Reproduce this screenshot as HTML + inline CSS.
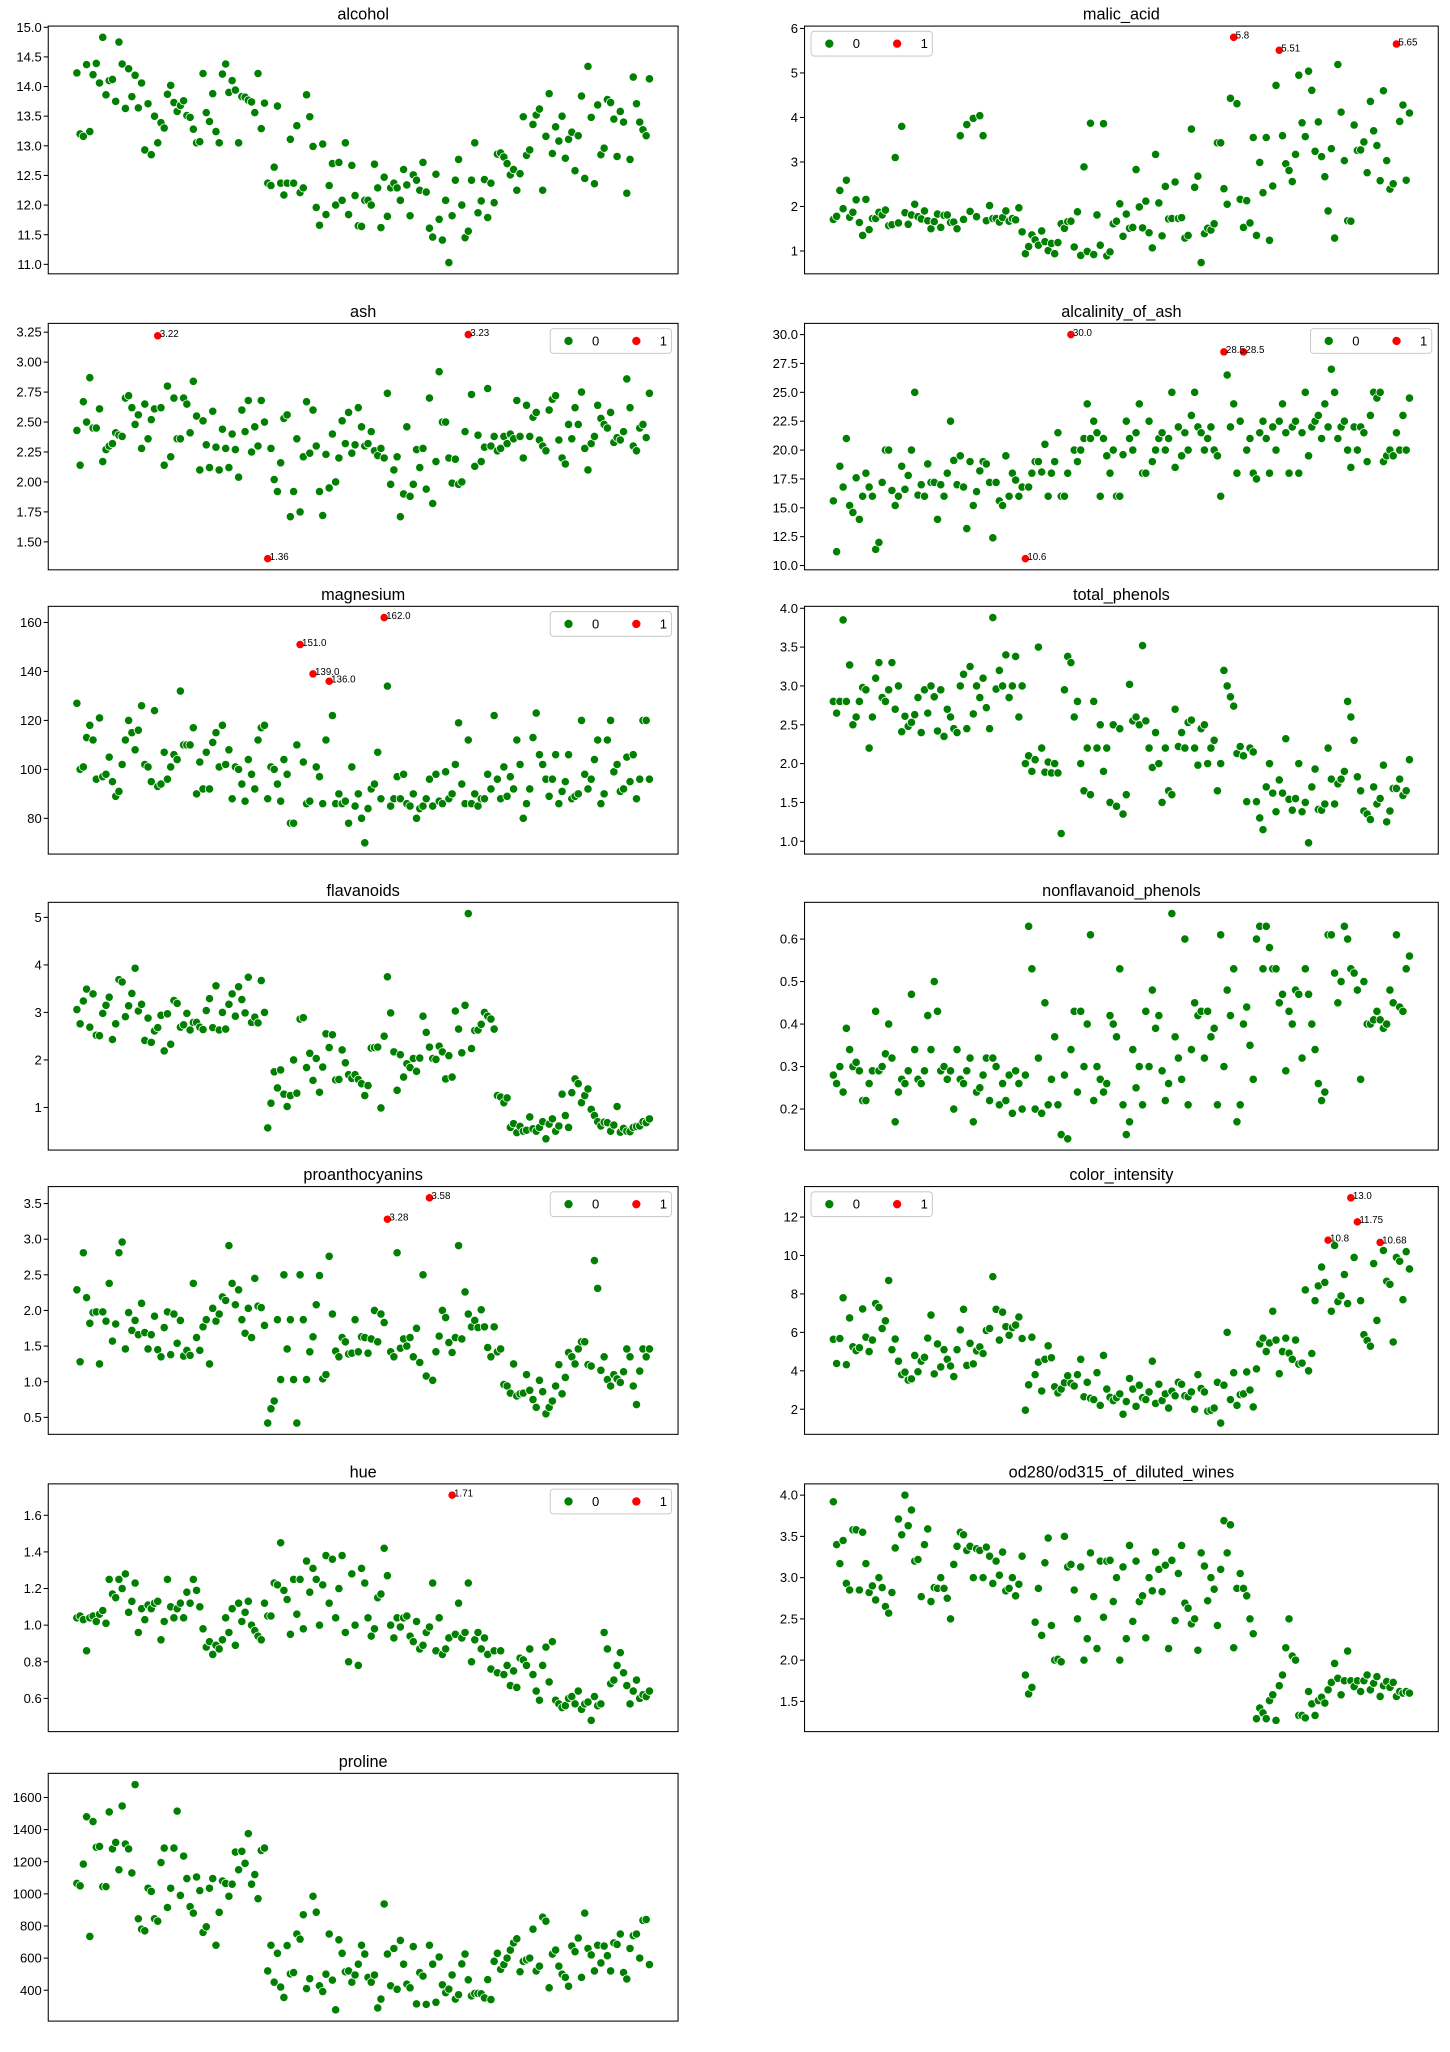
<!DOCTYPE html>
<html>
<head>
<meta charset="utf-8">
<style>
  html,body{margin:0;padding:0;background:#fff;}
  svg{display:block;font-family:"Liberation Sans","DejaVu Sans",sans-serif;}
</style>
</head>
<body>
<svg id="chart" width="1450" height="2052" viewBox="0 0 1112 1573.7" preserveAspectRatio="none" xmlns="http://www.w3.org/2000/svg"></svg>
<script>
const alcohol=[14.23,13.2,13.16,14.37,13.24,14.2,14.39,14.06,14.83,13.86,14.1,14.12,13.75,14.75,14.38,13.63,14.3,13.83,14.19,13.64,14.06,12.93,13.71,12.85,13.5,13.05,13.39,13.3,13.87,14.02,13.73,13.58,13.68,13.76,13.51,13.48,13.28,13.05,13.07,14.22,13.56,13.41,13.88,13.24,13.05,14.21,14.38,13.9,14.1,13.94,13.05,13.83,13.82,13.77,13.74,13.56,14.22,13.29,13.72,12.37,12.33,12.64,13.67,12.37,12.17,12.37,13.11,12.37,13.34,12.21,12.29,13.86,13.49,12.99,11.96,11.66,13.03,11.84,12.33,12.7,12.0,12.72,12.08,13.05,11.84,12.67,12.16,11.65,11.64,12.08,12.08,12.0,12.69,12.29,11.62,12.47,11.81,12.29,12.37,12.29,12.08,12.6,12.34,11.82,12.51,12.42,12.25,12.72,12.22,11.61,11.46,12.52,11.76,11.41,12.08,11.03,11.82,12.42,12.77,12.0,11.45,11.56,12.42,13.05,11.87,12.07,12.43,11.79,12.37,12.04,12.86,12.88,12.81,12.7,12.51,12.6,12.25,12.53,13.49,12.84,12.93,13.36,13.52,13.62,12.25,13.16,13.88,12.87,13.32,13.08,13.5,12.79,13.11,13.23,12.58,13.17,13.84,12.45,14.34,13.48,12.36,13.69,12.85,12.96,13.78,13.73,13.45,12.82,13.58,13.4,12.2,12.77,14.16,13.71,13.4,13.27,13.17,14.13];
const malicAcid=[1.71,1.78,2.36,1.95,2.59,1.76,1.87,2.15,1.64,1.35,2.16,1.48,1.73,1.73,1.87,1.81,1.92,1.57,1.59,3.1,1.63,3.8,1.86,1.6,1.81,2.05,1.77,1.72,1.9,1.68,1.5,1.66,1.83,1.53,1.8,1.81,1.64,1.65,1.5,3.59,1.71,3.84,1.89,3.98,1.77,4.04,3.59,1.68,2.02,1.73,1.73,1.65,1.75,1.9,1.67,1.73,1.7,1.97,1.43,
0.94,1.1,1.36,1.25,1.13,1.45,1.21,1.01,1.17,0.94,1.19,1.61,1.51,1.66,1.67,1.09,1.88,0.9,2.89,0.99,3.87,0.92,1.81,1.13,3.86,0.89,0.98,1.61,1.67,2.06,1.33,1.83,1.51,1.53,2.83,1.99,1.52,2.12,1.41,1.07,3.17,2.08,1.34,2.45,1.72,1.73,2.55,1.73,1.75,1.29,1.35,3.74,2.43,2.68,0.74,1.39,1.51,1.47,1.61,3.43,3.43,2.4,2.05,4.43,5.8,4.31,2.16,1.53,2.13,1.63,3.55,
1.35,2.99,2.31,3.55,1.24,2.46,4.72,5.51,3.59,2.96,2.81,2.56,3.17,4.95,3.88,3.57,5.04,4.61,3.24,3.9,3.12,2.67,1.9,3.3,1.29,5.19,4.12,3.03,1.68,1.67,3.83,3.26,3.27,3.45,2.76,4.36,3.7,3.37,2.58,4.6,3.03,2.39,2.51,5.65,3.91,4.28,2.59,4.1];
const ash=[2.43,2.14,2.67,2.5,2.87,2.45,2.45,2.61,2.17,2.27,2.3,2.32,2.41,2.39,2.38,2.7,2.72,2.62,2.48,2.56,2.28,2.65,2.36,2.52,2.61,3.22,2.62,2.14,2.8,2.21,2.7,2.36,2.36,2.7,2.65,2.41,2.84,2.55,2.1,2.51,2.31,2.12,2.59,2.29,2.1,2.44,2.28,2.12,2.4,2.27,2.04,2.6,2.42,2.68,2.25,2.46,2.3,2.68,2.5,
1.36,2.28,2.02,1.92,2.16,2.53,2.56,1.71,1.92,2.36,1.75,2.21,2.67,2.24,2.6,2.3,1.92,1.72,2.23,1.95,2.4,2.0,2.2,2.51,2.32,2.58,2.24,2.31,2.62,2.46,2.3,2.32,2.42,2.26,2.22,2.28,2.2,2.74,1.98,2.1,2.21,1.71,1.9,2.46,1.88,1.98,2.27,2.12,2.28,1.94,2.7,1.82,2.17,2.92,2.5,2.5,2.2,1.99,2.19,1.98,2.0,2.42,3.23,2.73,2.13,2.39,2.17,2.29,2.78,2.3,2.38,
2.26,2.28,2.38,2.32,2.4,2.36,2.68,2.38,2.2,2.64,2.38,2.54,2.58,2.35,2.3,2.26,2.6,2.69,2.72,2.35,2.2,2.15,2.48,2.36,2.62,2.48,2.75,2.28,2.1,2.32,2.38,2.64,2.53,2.48,2.45,2.58,2.33,2.37,2.35,2.42,2.86,2.62,2.3,2.26,2.45,2.48,2.37,2.74];
const alcalinityOfAsh=[15.6,11.2,18.6,16.8,21,15.2,14.6,17.6,14,16,18,16.8,16,11.4,12,17.2,20,20,16.5,15.2,16,18.6,16.6,17.8,20,25,16.1,17,16,18.8,17.2,17.2,14,17,16,18,22.5,19.1,17,19.5,16.8,13.2,19,15.2,16.4,18.2,19,18.8,17.2,12.4,17.2,15.6,15.2,19.5,16,18,17.4,16,16.8,
10.6,16.8,18,19,19,18.1,20.5,16,18,19,21.5,16,16,18,30,20,19,20,21,24,21,22.5,21.5,16,21,19.5,18,20,16,16,19.6,22.5,21,20,21.5,24,18,18,22.5,19,20,21,21.5,20,21,25,18.5,22,19.5,21.5,20,23,25,22,21.5,20,21,22,20,19.5,16,28.5,26.5,22,24,18,22.5,28.5,20,21,18,
17.5,21.5,22.5,21,18,22,20,22.5,24,21.5,18,22,22.5,18,21.5,25,19.5,22,22.5,23,21,24,22,27,25,21,22,22.5,20,18.5,22,20,22,21.5,19,23,25,24.5,25,19,19.5,20,19.5,21.5,20,23,20,24.5];
const magnesium=[127,100,101,113,118,112,96,121,97,98,105,95,89,91,102,112,120,115,108,116,126,102,101,95,124,93,94,107,96,101,106,104,132,110,110,110,117,90,103,92,107,92,111,115,101,118,102,108,88,101,100,94,87,104,98,92,112,117,118,
88,101,100,94,87,104,98,78,78,110,151,103,86,87,139,101,97,86,112,136,122,86,90,86,87,78,101,85,90,80,70,84,92,94,107,88,162,134,85,88,97,88,98,86,85,90,80,84,85,88,96,85,98,87,86,99,88,90,102,119,94,86,112,86,90,85,88,88,98,92,122,
96,88,101,89,97,92,112,102,80,86,92,113,123,106,102,96,89,96,106,86,91,95,106,88,89,90,120,98,92,96,104,112,86,90,112,120,99,102,91,92,105,95,106,88,96,120,120,96];
const totalPhenols=[2.8,2.65,2.8,3.85,2.8,3.27,2.5,2.6,2.8,2.98,2.95,2.2,2.6,3.1,3.3,2.85,2.8,2.95,3.3,2.7,3,2.41,2.61,2.48,2.53,2.63,2.85,2.4,2.95,2.65,3,2.86,2.42,2.95,2.35,2.7,2.6,2.45,2.4,3,3.15,2.45,3.25,2.64,3,2.85,3.1,2.72,2.45,3.88,2.96,3.2,3,3.4,2.85,3,3.38,2.6,3.0,
2.0,2.1,1.9,2.05,3.5,2.2,1.89,2.02,1.88,2.0,1.88,1.1,2.95,3.38,3.3,2.6,2.8,2.0,1.65,2.2,1.6,2.8,2.2,2.5,1.9,2.2,1.5,2.5,1.45,2.45,1.35,1.6,3.02,2.55,2.6,2.5,3.52,2.55,2.2,1.95,2.4,2.0,1.5,2.2,1.65,1.6,2.7,2.22,2.4,2.2,2.53,2.56,2.2,1.98,2.45,2.5,2.0,2.2,2.3,1.65,2.0,3.2,3.0,2.86,2.74,2.13,2.22,2.1,1.51,2.2,2.15,
1.51,1.3,1.15,1.7,2.0,1.62,1.38,1.79,1.62,2.32,1.54,1.4,1.55,2.0,1.38,1.5,0.98,1.7,1.93,1.41,1.4,1.48,2.2,1.8,1.48,1.74,1.8,1.9,2.8,2.6,2.3,1.83,1.65,1.39,1.35,1.28,1.7,1.48,1.55,1.98,1.25,1.39,1.68,1.68,1.8,1.59,1.65,2.05];
const flavanoids=[3.06,2.76,3.24,3.49,2.69,3.39,2.52,2.51,2.98,3.15,3.32,2.43,2.76,3.69,3.64,2.91,3.14,3.4,3.93,3.03,3.17,2.41,2.88,2.37,2.61,2.68,2.94,2.19,2.97,2.33,3.25,3.19,2.69,2.74,2.98,2.63,2.79,2.79,2.69,2.64,3.04,3.29,2.68,3.56,2.63,3.0,2.65,3.17,3.39,2.92,3.54,3.27,2.99,3.74,2.79,2.9,2.78,3.67,3.0,
0.57,1.09,1.75,1.41,1.79,1.28,1.02,1.25,2.0,1.3,2.86,2.89,1.84,2.14,1.57,2.03,1.32,1.85,2.55,2.26,2.53,1.58,1.59,2.21,1.94,1.69,1.61,1.69,1.59,1.5,1.25,1.46,2.25,2.26,2.27,0.99,2.5,3.75,2.99,2.17,1.36,2.11,1.64,1.92,1.84,2.03,1.76,2.04,2.92,2.58,2.27,2.03,2.01,2.29,2.17,1.6,2.09,1.64,3.03,2.65,2.15,3.15,5.08,2.24,2.62,2.63,2.75,3.0,2.92,2.86,2.65,
1.25,1.22,1.1,1.2,0.58,0.66,0.47,0.6,0.5,0.52,0.8,0.55,0.5,0.58,0.7,0.34,0.65,0.76,0.5,0.61,1.28,0.83,0.58,1.31,1.6,1.5,1.1,1.25,1.39,0.96,0.83,0.7,0.61,0.69,0.68,0.5,0.63,1.02,0.48,0.56,0.5,0.49,0.58,0.6,0.61,0.7,0.68,0.76];
const nonflavanoidPhenols=[0.28,0.26,0.3,0.24,0.39,0.34,0.3,0.31,0.29,0.22,0.22,0.26,0.29,0.43,0.29,0.3,0.33,0.4,0.32,0.17,0.24,0.27,0.26,0.29,0.47,0.34,0.27,0.26,0.29,0.42,0.34,0.5,0.43,0.29,0.3,0.27,0.29,0.2,0.34,0.27,0.26,0.29,0.32,0.17,0.24,0.25,0.28,0.32,0.22,0.32,0.3,0.21,0.26,0.22,0.28,0.19,0.29,0.26,0.2,
0.28,0.63,0.53,0.2,0.32,0.19,0.45,0.21,0.27,0.37,0.21,0.14,0.28,0.13,0.34,0.43,0.24,0.43,0.3,0.4,0.61,0.22,0.3,0.27,0.24,0.26,0.42,0.4,0.37,0.53,0.21,0.14,0.17,0.34,0.25,0.3,0.21,0.43,0.3,0.48,0.39,0.42,0.29,0.22,0.26,0.66,0.37,0.32,0.27,0.6,0.21,0.34,0.45,0.42,0.43,0.32,0.43,0.37,0.39,0.21,0.61,0.3,0.48,0.42,0.53,0.17,0.21,0.4,0.44,0.35,0.27,
0.6,0.63,0.53,0.63,0.58,0.53,0.53,0.45,0.47,0.29,0.43,0.4,0.48,0.47,0.32,0.53,0.47,0.4,0.34,0.26,0.22,0.24,0.61,0.61,0.52,0.45,0.5,0.63,0.6,0.53,0.52,0.48,0.27,0.5,0.4,0.4,0.41,0.43,0.41,0.39,0.4,0.48,0.45,0.61,0.44,0.43,0.53,0.56];
const proanthocyanins=[2.29,1.28,2.81,2.18,1.82,1.97,1.98,1.25,1.98,1.85,2.38,1.57,1.81,2.81,2.96,1.46,1.97,1.72,1.86,1.66,2.1,1.69,1.46,1.66,1.92,1.45,1.35,1.76,1.98,1.38,1.95,1.54,1.86,1.36,1.44,1.37,2.38,1.62,1.44,1.77,1.87,1.25,2.03,1.85,1.95,2.19,2.14,2.91,2.38,2.08,2.29,1.87,1.68,2.03,1.62,2.45,2.06,2.04,1.79,
0.42,0.62,0.73,1.87,1.03,2.5,1.46,1.87,1.03,0.42,2.5,1.87,1.03,1.42,1.63,2.08,2.49,1.04,1.1,2.76,1.95,1.43,1.35,1.62,1.56,1.39,1.4,1.87,1.42,1.63,1.62,1.4,1.6,2.0,1.56,1.95,1.83,3.28,1.42,1.35,2.81,1.47,1.6,1.5,1.62,1.35,1.75,1.27,2.5,1.08,3.58,1.02,1.42,1.64,2.0,1.9,1.55,1.41,1.62,2.91,1.6,2.26,1.95,1.77,1.86,1.76,2.01,1.77,1.48,1.35,1.77,
1.42,1.46,0.96,0.94,0.84,1.25,0.8,0.83,0.84,1.1,0.88,0.75,0.64,1.02,0.86,0.55,0.64,0.73,0.94,1.24,0.83,1.06,1.41,1.35,1.25,1.46,1.56,1.56,1.24,1.22,2.7,2.31,1.16,1.35,1.03,0.94,1.1,1.04,0.99,1.14,1.46,1.35,0.94,0.68,1.15,1.46,1.35,1.46];
const colorIntensity=[5.64,4.38,5.68,7.8,4.32,6.75,5.25,5.05,5.2,7.22,5.75,5.0,5.6,7.5,7.3,6.2,6.6,8.7,5.1,5.65,4.5,3.8,3.93,3.52,3.58,4.8,3.95,4.5,4.7,5.7,6.9,3.84,5.4,4.2,5.1,4.6,4.25,3.7,5.1,6.13,7.2,4.28,5.43,4.36,5.04,5.24,4.9,6.1,6.2,8.9,7.2,5.6,7.05,6.3,5.85,6.25,6.38,6.8,5.68,
1.95,3.27,5.75,3.8,4.45,2.95,4.6,5.3,4.68,3.17,2.85,3.05,3.38,3.74,3.35,3.21,3.8,4.6,2.65,3.4,2.57,2.5,3.9,2.2,4.8,3.05,2.62,2.45,2.6,2.8,1.74,2.4,3.6,3.05,2.15,3.25,2.6,2.5,2.9,4.5,2.3,3.3,2.45,2.8,2.06,2.94,2.7,3.4,3.3,2.7,2.65,2.9,2.0,3.8,3.08,2.9,1.9,1.95,2.06,3.4,1.28,3.25,6.0,2.5,3.9,2.2,2.76,2.8,3.94,3.0,2.12,
4.1,5.4,5.7,5.0,5.45,7.1,5.6,3.85,5.0,5.7,4.92,4.6,5.6,4.35,4.4,8.21,4.0,4.9,7.65,8.42,9.4,8.6,10.8,7.1,10.52,7.6,7.9,9.01,7.5,13.0,9.9,11.75,7.65,5.88,5.58,5.28,9.58,6.62,10.68,10.26,8.66,8.5,5.5,9.9,9.7,7.7,10.2,9.3];
const hue=[1.04,1.05,1.03,0.86,1.04,1.05,1.02,1.06,1.08,1.01,1.25,1.17,1.15,1.25,1.2,1.28,1.07,1.13,1.23,0.96,1.09,1.03,1.11,1.09,1.12,1.13,0.92,1.02,1.25,1.1,1.04,1.09,1.12,1.04,1.18,1.12,1.25,1.19,1.1,0.98,0.88,0.91,0.84,0.89,0.87,0.92,1.04,0.96,1.09,0.89,1.12,1.02,1.07,1.13,1.0,0.97,0.94,0.92,1.12,
1.05,1.05,1.23,1.22,1.45,1.19,1.14,0.95,1.25,1.06,1.25,0.98,1.35,1.18,1.31,1.25,1.0,1.22,1.38,1.12,1.36,1.04,1.2,1.38,0.96,0.8,1.28,1.0,0.78,1.31,1.23,1.04,0.94,0.98,1.15,1.17,1.42,1.27,1.0,0.93,1.04,0.99,1.04,1.05,0.94,0.91,1.02,0.87,0.89,0.96,0.99,1.23,0.86,1.04,0.84,0.87,0.93,1.71,0.95,1.12,0.93,0.96,1.23,0.8,0.92,0.96,0.87,0.93,0.84,0.76,0.86,
0.74,0.86,0.73,0.78,0.67,0.75,0.66,0.82,0.81,0.78,0.87,0.73,0.64,0.59,0.78,0.88,0.69,0.91,0.59,0.57,0.55,0.56,0.6,0.61,0.57,0.64,0.54,0.57,0.58,0.48,0.61,0.56,0.57,0.96,0.87,0.68,0.7,0.78,0.85,0.74,0.67,0.57,0.64,0.7,0.6,0.62,0.61,0.64];
const od280=[3.92,3.4,3.17,3.45,2.93,2.85,3.58,3.58,2.85,3.55,3.17,2.82,2.9,2.73,3.0,2.88,2.65,2.57,2.82,3.36,3.71,3.52,4.0,3.63,3.82,3.2,3.22,2.77,3.4,3.59,2.71,2.88,2.87,3.0,2.87,2.75,2.5,3.16,3.38,3.55,3.52,3.33,3.38,3.0,3.35,3.33,3.0,3.37,3.26,2.93,3.2,3.03,3.31,2.84,2.87,3.0,2.78,2.92,3.26,
1.82,1.59,1.67,2.46,2.87,2.3,3.18,3.48,2.42,2.0,2.01,1.98,3.5,3.13,3.16,2.85,2.5,3.13,2.0,2.26,3.3,2.77,2.14,3.2,2.52,3.2,3.21,2.71,3.0,2.0,3.13,2.26,3.39,2.47,3.2,2.71,2.78,2.27,3.0,2.84,3.31,3.1,2.83,3.15,2.14,3.21,2.48,3.05,3.39,2.69,2.63,2.44,2.5,2.12,3.3,3.14,2.72,3.0,2.86,2.42,3.1,3.69,3.3,3.64,2.15,2.87,3.05,2.87,2.78,2.5,2.32,
1.29,1.42,1.36,1.29,1.51,1.58,1.27,1.69,1.82,2.15,2.5,2.05,2.0,1.33,1.33,1.3,1.62,1.47,1.33,1.51,1.55,1.48,1.64,1.73,1.96,1.78,1.58,1.75,2.11,1.75,1.68,1.75,1.62,1.75,1.82,1.64,1.72,1.8,1.56,1.69,1.74,1.67,1.73,1.56,1.62,1.6,1.62,1.6];
const proline=[1065,1050,1185,1480,735,1450,1290,1295,1045,1045,1510,1280,1320,1150,1547,1310,1280,1130,1680,845,780,770,1035,1015,845,830,1195,1285,915,1035,1285,1515,990,1235,1095,920,880,1105,1020,760,795,1035,1095,680,885,1080,1065,985,1060,1260,1150,1265,1190,1375,1060,1120,970,1270,1285,
520,680,450,630,420,355,678,502,510,750,718,870,410,472,985,886,428,392,500,750,463,278,714,630,515,520,450,495,562,680,625,480,450,495,290,345,937,625,428,660,406,710,562,438,415,672,315,510,488,312,680,562,325,607,434,385,407,495,345,372,564,625,465,365,380,380,378,352,466,342,580,
630,530,560,600,650,695,720,515,580,590,600,780,520,550,855,830,415,625,650,550,500,480,425,675,640,725,480,880,660,620,520,680,570,675,615,520,695,685,750,510,470,660,740,750,600,835,840,560];

const alcoholTicks=[11.0,11.5,12.0,12.5,13.0,13.5,14.0,14.5,15.0];
const malicTicks=[1,2,3,4,5,6];
const ashTicks=[1.50,1.75,2.00,2.25,2.50,2.75,3.00,3.25];
const alcalinityTicks=[10.0,12.5,15.0,17.5,20.0,22.5,25.0,27.5,30.0];
const magnesiumTicks=[80,100,120,140,160];
const phenolsTicks=[1.0,1.5,2.0,2.5,3.0,3.5,4.0];
const flavanoidsTicks=[1,2,3,4,5];
const nonflavTicks=[0.2,0.3,0.4,0.5,0.6];
const proanthTicks=[0.5,1.0,1.5,2.0,2.5,3.0,3.5];
const colorTicks=[2,4,6,8,10,12];
const hueTicks=[0.6,0.8,1.0,1.2,1.4,1.6];
const odTicks=[1.5,2.0,2.5,3.0,3.5,4.0];
const prolineTicks=[400,600,800,1000,1200,1400,1600];
const featureNames=['alcohol','malic_acid','ash','alcalinity_of_ash','magnesium','total_phenols','flavanoids','nonflavanoid_phenols','proanthocyanins','color_intensity','hue','od280/od315_of_diluted_wines','proline'];
const legendLabels=['0','1'];

const panels=[
 {data:alcohol,ticks:alcoholTicks,dec:1,leg:null},
 {data:malicAcid,ticks:malicTicks,dec:0,leg:'ul'},
 {data:ash,ticks:ashTicks,dec:2,leg:'ur'},
 {data:alcalinityOfAsh,ticks:alcalinityTicks,dec:1,leg:'ur'},
 {data:magnesium,ticks:magnesiumTicks,dec:0,leg:'ur'},
 {data:totalPhenols,ticks:phenolsTicks,dec:1,leg:null},
 {data:flavanoids,ticks:flavanoidsTicks,dec:0,leg:null},
 {data:nonflavanoidPhenols,ticks:nonflavTicks,dec:1,leg:null},
 {data:proanthocyanins,ticks:proanthTicks,dec:1,leg:'ur'},
 {data:colorIntensity,ticks:colorTicks,dec:0,leg:'ul'},
 {data:hue,ticks:hueTicks,dec:1,leg:'ur'},
 {data:od280,ticks:odTicks,dec:1,leg:null},
 {data:proline,ticks:prolineTicks,dec:0,leg:null}
];
const colX=[[37,520],[617,1103]];
const rowY=[[20,210],[248,437],[465,655],[692,882],[910,1100],[1138,1328],[1360,1550]];
const NS='http://www.w3.org/2000/svg';
const svg=document.getElementById('chart');
function mk(tag,attrs,parent){const e=document.createElementNS(NS,tag);for(const k in attrs)e.setAttribute(k,attrs[k]);(parent||svg).appendChild(e);return e;}
function quantile(s,p){const pos=(s.length-1)*p;const lo=Math.floor(pos);const hi=Math.min(lo+1,s.length-1);return s[lo]+(s[hi]-s[lo])*(pos-lo);}
function fmtVal(v){return Number.isInteger(v)?v.toFixed(1):String(v);}

panels.forEach((p,k)=>{
  const [x0,x1]=colX[k%2];const [y0,y1]=rowY[Math.floor(k/2)];
  const name=featureNames[k].replace(/[^a-z0-9]+/g,'-');
  const g=mk('g',{});
  
  
  const n=p.data.length;
  const xmin=0,xmax=n-1,xm=(xmax-xmin)*0.05;
  const xs=i=>x0+(i-(xmin-xm))/((xmax+xm)-(xmin-xm))*(x1-x0);
  const dmin=Math.min(...p.data),dmax=Math.max(...p.data),ym=(dmax-dmin)*0.05;
  const ys=v=>y1-(v-(dmin-ym))/((dmax+ym)-(dmin-ym))*(y1-y0);
  const sorted=[...p.data].sort((a,b)=>a-b);
  const q1=quantile(sorted,0.25),q3=quantile(sorted,0.75),iqr=q3-q1;
  const lo=q1-1.5*iqr,hi=q3+1.5*iqr;
  const t=mk('text',{x:(x0+x1)/2,y:y0-5,'text-anchor':'middle','font-size':12.5,fill:'#000'},g);
  t.textContent=featureNames[k];
  
  
  p.ticks.forEach(tv=>{
    const y=ys(tv);
    if(y<y0-0.5||y>y1+0.5)return;
    const tl=mk('line',{x1:x0-3.5,x2:x0,y1:y,y2:y,stroke:'#000','stroke-width':0.8},g);
    
    
    const tt=mk('text',{x:x0-5,y:y+3.5,'text-anchor':'end','font-size':10,fill:'#000'},g);
    tt.textContent=tv.toFixed(p.dec);
    
    
  });
  let hasOut=false;
  p.data.forEach((v,i)=>{
    const out=v<lo||v>hi;
    if(out)hasOut=true;
    const c=mk('circle',{cx:xs(i),cy:ys(v),r:3.2,fill:out?'#ff0000':'#008000',stroke:'#fff','stroke-width':0.6},g);
    
    
  });
  p.data.forEach((v,i)=>{
    if(!(v<lo||v>hi))return;
    const lt=mk('text',{x:xs(i)+1.5,y:ys(v)+1,'font-size':7.5,fill:'#000'},g);
    lt.textContent=fmtVal(v);
    
    
  });
  const fr=mk('rect',{x:x0,y:y0,width:x1-x0,height:y1-y0,fill:'none',stroke:'#000','stroke-width':0.8},g);
  
  
  if(hasOut&&p.leg){
    const w=93,h=19;
    const lx=p.leg==='ul'?x0+5:x1-5-w, ly=y0+4;
    const lg=mk('g',{},g);
    
    
    mk('rect',{x:lx,y:ly,width:w,height:h,rx:2.5,fill:'#fff','fill-opacity':0.8,stroke:'#ccc','stroke-width':0.8},lg);
    legendLabels.forEach((lab,j)=>{
      const cx=lx+14+j*52;
      const lc=mk('circle',{cx:cx,cy:ly+h/2,r:3.5,fill:j?'#ff0000':'#008000',stroke:'#fff','stroke-width':0.6},lg);
      
      
      const ltx=mk('text',{x:cx+18,y:ly+h/2+3.5,'font-size':10,fill:'#000'},lg);
      ltx.textContent=lab;
      
      
    });
  }
});
</script>
</body>
</html>
